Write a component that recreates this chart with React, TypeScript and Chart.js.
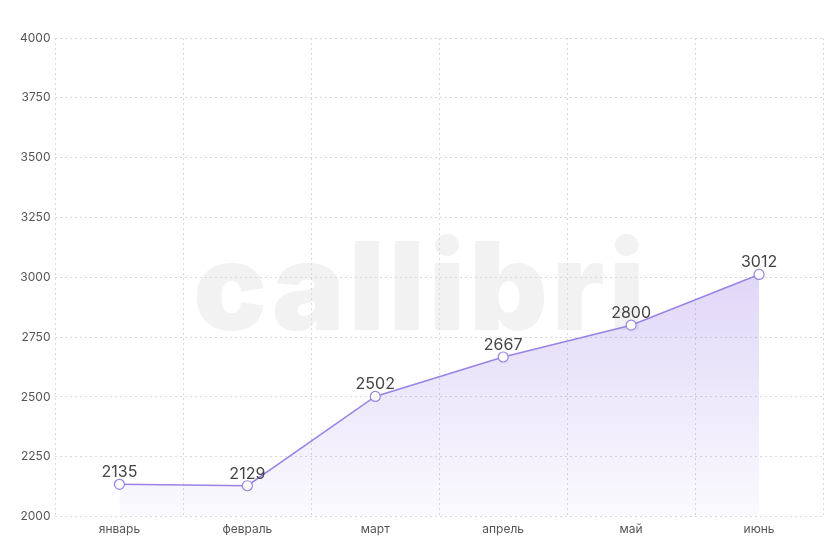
import React, { useEffect, useRef } from "react";
import { Chart, registerables } from "chart.js";

Chart.register(...registerables);

const months = ["январь", "февраль", "март", "апрель", "май", "июнь"];
const visits = [2135, 2129, 2502, 2667, 2800, 3012];
const yMin = 2000;
const yMax = 4000;
const yStep = 250;
const watermarkText = "callibri";

const FONT = "Inter, 'Noto Sans', sans-serif";

const watermarkPlugin = {
  id: "watermark",
  beforeDraw(chart: any) {
    const { ctx } = chart;
    ctx.save();
    ctx.font = `900 122px ${FONT}`;
    ctx.fillStyle = "#f2f2f2";
    ctx.textAlign = "center";
    ctx.textBaseline = "alphabetic";
    try {
      (ctx as any).letterSpacing = "4px";
    } catch (e) {}
    ctx.fillText(watermarkText, 421, 330);
    ctx.restore();
  },
};

const labelPlugin = {
  id: "pointLabels",
  afterDatasetsDraw(chart: any) {
    const { ctx } = chart;
    const meta = chart.getDatasetMeta(0);
    ctx.save();
    ctx.font = `16px ${FONT}`;
    ctx.fillStyle = "#444444";
    ctx.textAlign = "center";
    ctx.textBaseline = "alphabetic";
    meta.data.forEach((pt: any, i: number) => {
      ctx.fillText(String(chart.data.datasets[0].data[i]), pt.x, pt.y - 7);
    });
    ctx.restore();
  },
};

export default function App() {
  const ref = useRef<HTMLCanvasElement | null>(null);
  useEffect(() => {
    if (!ref.current) return;
    const chart = new Chart(ref.current, {
      type: "line",
      data: {
        labels: months,
        datasets: [
          {
            data: visits,
            borderColor: "#9a82e6",
            borderWidth: 1.5,
            pointRadius: 5,
            pointHoverRadius: 5,
            pointBackgroundColor: "#ffffff",
            pointBorderColor: "#9a82e6",
            pointBorderWidth: 1.2,
            tension: 0,
            fill: "start",
            backgroundColor: (c: any) => {
              const area = c.chart.chartArea;
              if (!area) return "rgba(150,120,230,0.2)";
              const g = c.chart.ctx.createLinearGradient(0, 270, 0, area.bottom);
              g.addColorStop(0, "rgba(150,120,230,0.30)");
              g.addColorStop(1, "rgba(150,120,230,0.04)");
              return g;
            },
          },
        ],
      },
      options: {
        animation: false,
        responsive: true,
        maintainAspectRatio: false,
        layout: { padding: { top: 38, right: 17, left: 15, bottom: 17 } },
        plugins: { legend: { display: false }, tooltip: { enabled: false } },
        scales: {
          x: {
            offset: true,
            grid: { offset: true, color: "#d9d9d9", drawTicks: false },
            border: { display: false, dash: [2, 3] },
            ticks: { color: "#555555", font: { family: FONT, size: 12 }, padding: 6 },
          },
          y: {
            min: yMin,
            max: yMax,
            ticks: {
              stepSize: yStep,
              color: "#555555",
              font: { family: FONT, size: 12 },
              padding: 5,
              callback: (v: any) => String(v),
            },
            grid: { color: "#d9d9d9", drawTicks: false },
            border: { display: false, dash: [2, 3] },
          },
        },
      },
      plugins: [watermarkPlugin, labelPlugin],
    } as any);
    return () => chart.destroy();
  }, []);
  return (
    <div style={{ position: "fixed", left: 0, top: 0, width: 840, height: 560, background: "#fff" }}>
      <canvas ref={ref} />
    </div>
  );
}
